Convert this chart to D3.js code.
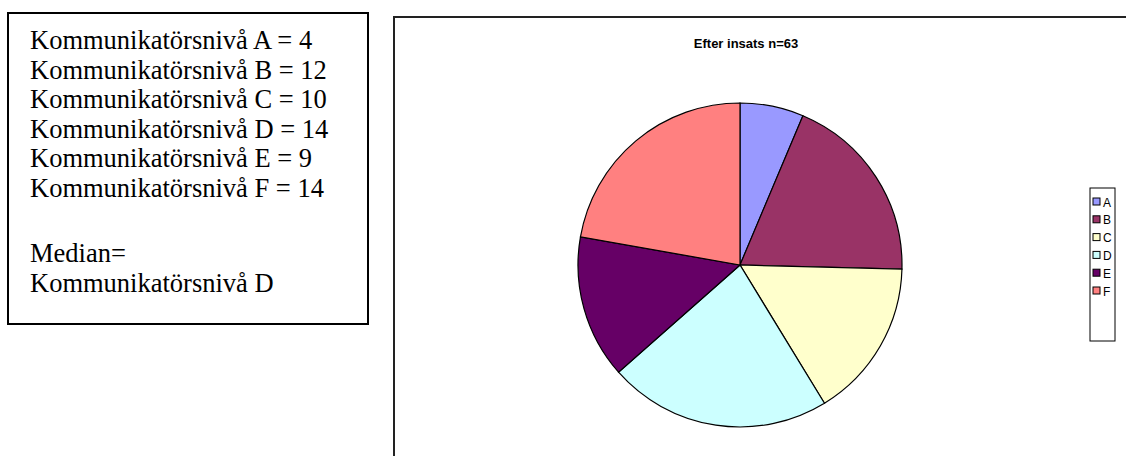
<!DOCTYPE html>
<html><head><meta charset="utf-8">
<script src="https://cdn.jsdelivr.net/npm/d3@7"></script>
<style>body{margin:0;background:#fff;} svg{display:block;}</style>
</head><body>
<svg id="c" width="1126" height="456"></svg>
<script>
const categories = ["A","B","C","D","E","F"];
const values = [4,12,10,14,9,14];
const colors = ["#9999FF","#993366","#FFFFCC","#CCFFFF","#660066","#FF8080"];
const title = "Efter insats n=63";
const noteLines = ["Kommunikatörsnivå A = 4","Kommunikatörsnivå B = 12","Kommunikatörsnivå C = 10","Kommunikatörsnivå D = 14","Kommunikatörsnivå E = 9","Kommunikatörsnivå F = 14","","Median=","Kommunikatörsnivå D"];

const svg = d3.select("#c");
// text box
svg.append("rect").attr("x",8).attr("y",13).attr("width",360).attr("height",311)
  .attr("fill","#fff").attr("stroke","#000").attr("stroke-width",2);
svg.append("g").selectAll("text").data(noteLines).join("text")
  .attr("x",30).attr("y",(d,i)=>49+i*29.6+(i>=7?6:0))
  .attr("font-family","'Liberation Serif','Times New Roman',serif").attr("font-size",26.5)
  .attr("fill","#000").text(d=>d);

// chart frame
svg.append("rect").attr("x",394).attr("y",17).attr("width",760).attr("height",460)
  .attr("fill","#fff").attr("stroke","#222").attr("stroke-width",2);
svg.append("text").attr("x",746).attr("y",48).attr("text-anchor","middle")
  .attr("font-family","'Liberation Sans',Arial,sans-serif").attr("font-weight","bold")
  .attr("font-size",13).text(title);

const pie = d3.pie().sort(null).value(d=>d)(values);
const arc = d3.arc().innerRadius(0).outerRadius(162);
const g = svg.append("g").attr("transform","translate(740,265)");
g.selectAll("path").data(pie).join("path").attr("d",arc)
  .attr("fill",(d,i)=>colors[i]).attr("stroke","#000").attr("stroke-width",1.2);

// legend
const lg = svg.append("g");
lg.append("rect").attr("x",1090).attr("y",188).attr("width",25).attr("height",153)
  .attr("fill","#fff").attr("stroke","#000").attr("stroke-width",1);
const ly = d3.scalePoint().domain(categories).range([202,291]);
lg.selectAll("rect.sw").data(categories).join("rect").attr("class","sw")
  .attr("x",1093).attr("y",d=>ly(d)-4).attr("width",7).attr("height",7)
  .attr("fill",(d,i)=>colors[i]).attr("stroke","#000").attr("stroke-width",1);
lg.selectAll("text").data(categories).join("text")
  .attr("x",1103).attr("y",d=>ly(d)+4.5)
  .attr("font-family","'Liberation Sans',Arial,sans-serif").attr("font-size",12)
  .text(d=>d);
</script>
</body></html>
